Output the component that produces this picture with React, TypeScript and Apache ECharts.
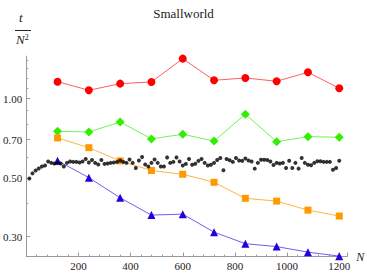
import React, { useEffect, useRef } from 'react';
import * as echarts from 'echarts';

const sizeN = [120, 240, 360, 480, 600, 720, 840, 960, 1080, 1200];
const redValues = [1.16, 1.076, 1.14, 1.157, 1.418, 1.174, 1.198, 1.164, 1.259, 1.095];
const greenValues = [0.752, 0.748, 0.816, 0.704, 0.733, 0.691, 0.873, 0.687, 0.718, 0.714];
const orangeValues = [0.71, 0.652, 0.581, 0.534, 0.517, 0.482, 0.419, 0.409, 0.378, 0.359];
const blueValues = [0.582, 0.502, 0.421, 0.362, 0.365, 0.312, 0.282, 0.275, 0.262, 0.253];

const blackN = [
  12, 24, 36, 48, 60, 72, 84, 96, 108, 120,
  132, 144, 156, 168, 180, 192, 204, 216, 228, 240,
  252, 264, 276, 288, 300, 312, 324, 336, 348, 360,
  372, 384, 396, 408, 420, 432, 444, 456, 468, 480,
  492, 504, 516, 528, 540, 552, 564, 576, 588, 600,
  612, 624, 636, 648, 660, 672, 684, 696, 708, 720,
  732, 744, 756, 768, 780, 792, 804, 816, 828, 840,
  852, 864, 876, 888, 900, 912, 924, 936, 948, 960,
  972, 984, 996, 1008, 1020, 1032, 1044, 1056, 1068, 1080,
  1092, 1104, 1116, 1128, 1140, 1152, 1164, 1176, 1188, 1200,
];
const blackValues = [
  0.498, 0.521, 0.534, 0.544, 0.553, 0.558, 0.578, 0.571, 0.568, 0.571,
  0.568, 0.553, 0.571, 0.578, 0.576, 0.576, 0.573, 0.578, 0.591, 0.573,
  0.586, 0.571, 0.563, 0.586, 0.566, 0.568, 0.571, 0.573, 0.576, 0.583,
  0.576, 0.571, 0.588, 0.571, 0.546, 0.583, 0.601, 0.563, 0.553, 0.571,
  0.588, 0.571, 0.553, 0.553, 0.599, 0.571, 0.576, 0.599, 0.578, 0.558,
  0.566, 0.591, 0.562, 0.567, 0.581, 0.591, 0.571, 0.558, 0.562, 0.571,
  0.586, 0.596, 0.535, 0.591, 0.584, 0.576, 0.596, 0.583, 0.581, 0.593,
  0.583, 0.578, 0.543, 0.571, 0.587, 0.587, 0.586, 0.578, 0.561, 0.571,
  0.568, 0.571, 0.546, 0.582, 0.546, 0.571, 0.543, 0.596, 0.571, 0.562,
  0.559, 0.571, 0.579, 0.579, 0.576, 0.576, 0.576, 0.538, 0.546, 0.582,
];

const yMajorTicks = [0.3, 0.5, 0.7, 1.0];
const yMinorTicks = [0.4, 0.6, 0.8, 0.9, 1.1, 1.2, 1.3, 1.4];
const xTickLabels = [200, 400, 600, 800, 1000, 1200];

const SERIF = 'Liberation Serif';
const AXIS_COLOR = '#999999';

const pairs = (xs: number[], ys: number[]) => xs.map((x, i) => [x, ys[i]]);

export default function App() {
  const ref = useRef<HTMLDivElement>(null);

  useEffect(() => {
    if (!ref.current) return;
    const chart = echarts.init(ref.current, undefined, { renderer: 'svg' });
    const lineSeries = (name: string, values: number[], symbol: string, size: number, color: string, lineColor: string) => ({
      name,
      type: 'line',
      data: pairs(sizeN, values),
      symbol,
      symbolSize: size,
      itemStyle: { color },
      lineStyle: { color: lineColor, width: 1 },
      yAxisIndex: 0,
      z: 3,
    });
    chart.setOption({
      animation: false,
      textStyle: { fontFamily: SERIF },
      title: {
        text: 'Smallworld',
        left: 'center',
        top: 2,
        textStyle: { fontFamily: SERIF, fontSize: 13, fontWeight: 'normal', color: '#222' },
      },
      grid: { left: 22.8, right: 17, top: 56.1, bottom: 16.4, containLabel: false },
      xAxis: {
        type: 'value',
        min: 0,
        max: 1230,
        interval: 200,
        name: 'N',
        nameLocation: 'end',
        nameGap: 5,
        nameTextStyle: { fontFamily: SERIF, fontStyle: 'italic', fontSize: 12, color: '#222', verticalAlign: 'middle' },
        axisLine: { show: true, lineStyle: { color: AXIS_COLOR, width: 1 } },
        axisTick: { show: true, inside: true, length: 4, lineStyle: { color: AXIS_COLOR } },
        minorTick: { show: true, splitNumber: 5, length: 2, lineStyle: { color: AXIS_COLOR } },
        axisLabel: {
          customValues: xTickLabels,
          formatter: (v: number) => String(v),
          fontFamily: SERIF,
          fontSize: 11,
          color: '#222',
          margin: 4,
        },
        splitLine: { show: false },
      },
      yAxis: [
        {
          type: 'log',
          logBase: 10,
          min: 0.252,
          max: 1.45,
          axisLine: { show: true, lineStyle: { color: AXIS_COLOR, width: 1 } },
          axisTick: { show: true, inside: true, length: 4, customValues: yMajorTicks, lineStyle: { color: AXIS_COLOR } },
          axisLabel: {
            customValues: yMajorTicks,
            formatter: (v: number) => v.toFixed(2),
            fontFamily: SERIF,
            fontSize: 11,
            color: '#222',
            margin: 4,
          },
          splitLine: { show: false },
        },
        {
          type: 'log',
          logBase: 10,
          min: 0.252,
          max: 1.45,
          position: 'left',
          axisLine: { show: false },
          axisTick: { show: true, inside: true, length: 2, customValues: yMinorTicks, lineStyle: { color: AXIS_COLOR } },
          axisLabel: { show: false },
          splitLine: { show: false },
        },
      ],
      graphic: [
        {
          type: 'text',
          left: 19,
          top: 11,
          style: { text: 't', fontFamily: SERIF, fontStyle: 'italic', fontSize: 13, fill: '#222' },
        },
        {
          type: 'line',
          shape: { x1: 15, y1: 30.5, x2: 31, y2: 30.5 },
          style: { stroke: '#222', lineWidth: 1 },
        },
        {
          type: 'text',
          left: 16,
          top: 33,
          style: {
            text: '{n|N}{s|2}',
            rich: {
              n: { fontFamily: SERIF, fontStyle: 'italic', fontSize: 13, fill: '#222' },
              s: { fontFamily: SERIF, fontSize: 8, fill: '#222', verticalAlign: 'top', padding: [0, 0, 5, 0] },
            },
          },
        },
      ],
      series: [
        lineSeries('red', redValues, 'circle', 8, '#ff0000', 'rgba(255,40,40,0.75)'),
        lineSeries('green', greenValues, 'diamond', 9, '#33ee00', 'rgba(60,240,30,0.75)'),
        lineSeries('orange', orangeValues, 'rect', 7, '#ff9900', 'rgba(255,160,20,0.8)'),
        lineSeries('blue', blueValues, 'triangle', 8, '#2200dd', 'rgba(60,40,240,0.75)'),
        {
          name: 'black',
          type: 'scatter',
          data: pairs(blackN, blackValues),
          symbol: 'circle',
          symbolSize: 4,
          itemStyle: { color: '#000' },
          yAxisIndex: 0,
          z: 4,
        },
      ],
    });
    return () => chart.dispose();
  }, []);

  return (
    <div
      ref={ref}
      style={{ position: 'fixed', left: 0, top: 0, width: 367, height: 273, background: '#fff' }}
    />
  );
}
